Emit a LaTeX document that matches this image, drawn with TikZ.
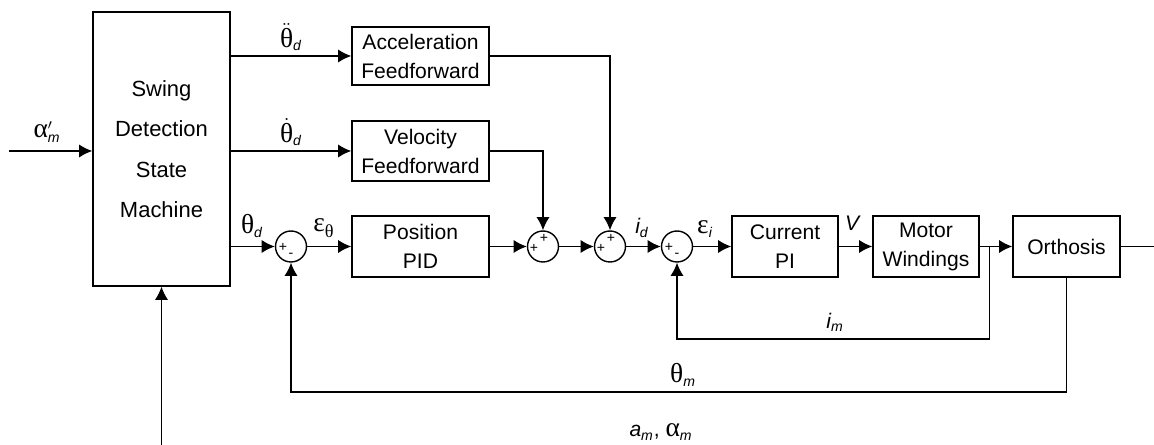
\documentclass[tikz,border=0pt]{standalone}
\usepackage{fontspec}
\usepackage{amsmath}
\setmainfont{Liberation Sans}
\newfontfamily\grk[Scale=1.3]{Liberation Serif}
\usetikzlibrary{arrows.meta,positioning,calc}

\newcommand{\gtheta}{\text{\grk θ}}
\newcommand{\galpha}{\text{\grk α}}
\newcommand{\gepsilon}{\text{\grk ε}}

\begin{document}
\begin{tikzpicture}[
    x=0.02cm, y=-0.02cm,
    >={Latex[length=7.5pt,width=7.5pt]},
    line width=0.8pt,
    block/.style={rectangle, draw=black, align=center, minimum width=2.74cm, minimum height=1.2cm, inner sep=1pt, font=\fontsize{12}{16.5}\selectfont},
    sumnode/.style={circle, draw=black, minimum size=0.62cm, inner sep=0pt},
    sgn/.style={font=\fontsize{8}{8}\selectfont, inner sep=0pt},
    lbl/.style={font=\fontsize{12}{14}\selectfont, inner sep=0pt}
  ]
    \useasboundingbox (0,0) rectangle (1154,445);

    % blocks
    \node[block, minimum height=5.48cm, font=\fontsize{12.5}{23}\selectfont] (fsm) at (161.5,149) {Swing\\Detection\\State\\Machine};
    \node[block, minimum height=1.16cm] (acc) at (420.5,56) {Acceleration\\Feedforward};
    \node[block] (vel) at (420.5,151) {Velocity\\Feedforward};
    \node[block, minimum height=1.22cm] (pid) at (420.5,246.5) {Position\\PID};
    \node[block, minimum width=2.12cm, minimum height=1.22cm] (cpi) at (785,246.5) {Current\\PI};
    \node[block, minimum width=2.12cm, minimum height=1.22cm] (mw) at (926,246.5) {Motor\\Windings};
    \node[block, minimum width=2.14cm, minimum height=1.22cm] (orth) at (1066.5,246.5) {Orthosis};

    % summing junctions
    \node[sumnode] (s1) at (291,246.5) {};
    \node[sumnode] (s2) at (543,246.5) {};
    \node[sumnode] (s3) at (610,246.5) {};
    \node[sumnode] (s4) at (677,246.5) {};
    \node[sgn] (s1a) at ($(s1)+(-8,1)$) {+};
    \node[sgn] (s1b) at ($(s1)+(0,9)$) {-};
    \node[sgn] (s2a) at ($(s2)+(-9,2)$) {+};
    \node[sgn] (s2b) at ($(s2)+(1,-8)$) {+};
    \node[sgn] (s3a) at ($(s3)+(-9,2)$) {+};
    \node[sgn] (s3b) at ($(s3)+(1,-8)$) {+};
    \node[sgn] (s4a) at ($(s4)+(-8,1)$) {+};
    \node[sgn] (s4b) at ($(s4)+(0,9)$) {-};

    % free ends and corners
    \coordinate (ain) at (9,151);
    \coordinate (amin) at (161.5,445);
    \coordinate (aout) at (1154,246.5);
    \coordinate (br) at ($(mw.east)!0.3!(orth.west)$);
    \coordinate (imc) at (br |- 0,339);
    \coordinate (thc) at (orth.south |- 0,392);

    % signals
    \draw[->] (ain) -- (fsm.west |- ain);
    \draw[->] (amin) -- (fsm.south);
    \draw[->] (fsm.east |- acc) -- (acc);
    \draw[->] (fsm.east |- vel) -- (vel);
    \draw[->] (fsm.east |- s1) -- (s1);
    \draw[->] (s1) -- (pid);
    \draw[->] (pid) -- (s2);
    \draw[->] (s2) -- (s3);
    \draw[->] (s3) -- (s4);
    \draw[->] (s4) -- (cpi);
    \draw[->] (cpi) -- (mw);
    \draw[->] (mw) -- (orth);
    \draw (orth) -- (aout);
    \draw[->] (acc.east) -| (s3.north);
    \draw[->] (vel.east) -| (s2.north);
    \draw[->] (br) -- (imc) -| (s4.south);
    \draw[->] (orth.south) -- (thc) -| (s1.south);

    % labels
    \node[lbl] (lain) at (47,132) {$\galpha'_{\textit{m}}$};
    \node[lbl] (lacc) at (291,37) {$\ddot{\gtheta}_{\textit{d}}$};
    \node[lbl] (lvel) at (291,132) {$\dot{\gtheta}_{\textit{d}}$};
    \node[lbl] (lthd) at (252,226) {$\gtheta_{\textit{d}}$};
    \node[lbl] (lept) at (324,228) {$\gepsilon_{\gtheta}$};
    \node[lbl] (lid) at (642,228) {$\textit{i}_{\textit{d}}$};
    \node[lbl] (lepi) at (705,229) {$\gepsilon_{\textit{i}}$};
    \node[lbl] (lv) at (853,223) {\textit{V}};
    \node[lbl] (lim) at (835,322) {$\textit{i}_{\textit{m}}$};
    \node[lbl] (lthm) at (683,375) {$\gtheta_{\textit{m}}$};
    \node[lbl] (lam) at (661,432) {$\textit{a}_{\textit{m}}$, $\galpha_{\textit{m}}$};
\end{tikzpicture}
\end{document}
